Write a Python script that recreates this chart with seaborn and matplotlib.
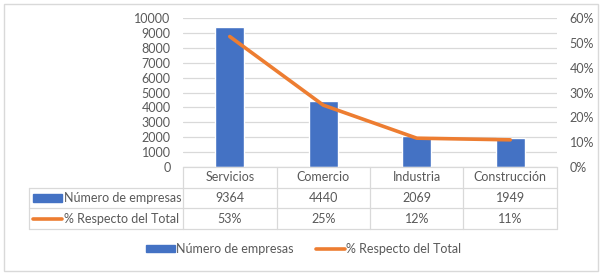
import numpy as np
import seaborn as sns
import matplotlib.pyplot as plt
from matplotlib.patches import Patch, Rectangle
from matplotlib.lines import Line2D

sns.set_style("white")
plt.rcParams["font.family"] = ["Lato", "DejaVu Sans"]

categorias = ["Servicios", "Comercio", "Industria", "Construcción"]
empresas = [9364, 4440, 2069, 1949]
porcentaje = [0.5254, 0.2491, 0.1161, 0.1094]
serie_barras = "Número de empresas"
serie_linea = "% Respecto del Total"

azul = "#4472C4"
naranja = "#ED7D31"
gris_txt = "#595959"
gris_linea = "#D9D9D9"
fs = 9

fig = plt.figure(figsize=(6.02, 2.74), dpi=100)
ax = fig.add_axes([183 / 602, 107 / 274, 374 / 602, 149 / 274])

sns.barplot(x=categorias, y=empresas, ax=ax, color=azul, width=0.31, saturation=1)
ax.set_ylim(0, 10000)
ax.set_yticks(range(0, 10001, 1000))
ax.set_xlim(-0.5, len(categorias) - 0.5)
ax.yaxis.grid(True, color=gris_linea, lw=0.9)
ax.set_axisbelow(True)
ax.set_xticks([])
ax.set_xlabel("")
ax.set_ylabel("")
ax.tick_params(axis="y", length=0, pad=9, labelsize=fs, labelcolor=gris_txt)
for s in ax.spines.values():
    s.set_visible(False)

ax2 = ax.twinx()
pos = np.arange(len(categorias))
sns.lineplot(x=pos, y=porcentaje, ax=ax2, color=naranja, lw=2.6)
ax2.set_ylim(0, 0.6)
ax2.set_yticks(np.arange(0, 0.61, 0.1))
ax2.set_yticklabels([f"{v:.0%}" for v in np.arange(0, 0.61, 0.1)])
ax2.tick_params(axis="y", length=0, pad=9, labelsize=fs, labelcolor=gris_txt)
ax2.set_ylabel("")
for s in ax2.spines.values():
    s.set_visible(False)

# tabla de datos
tr = ax.get_xaxis_transform()
h = 0.139
x_izq = -0.5 - (183 - 29) / 93.5
x_der = len(categorias) - 0.5
lw_t = 0.9
ax.plot([-0.5, x_der], [0, 0], color=gris_linea, lw=lw_t, transform=tr, clip_on=False)
for k in (1, 2, 3):
    ax.plot([x_izq, x_der], [-k * h, -k * h], color=gris_linea, lw=lw_t, transform=tr, clip_on=False)
ax.plot([x_izq, x_izq], [-h, -3 * h], color=gris_linea, lw=lw_t, transform=tr, clip_on=False)
for xb in np.arange(-0.5, len(categorias), 1.0):
    ax.plot([xb, xb], [0.0, -3 * h], color=gris_linea, lw=lw_t, transform=tr, clip_on=False)

for i, cat in enumerate(categorias):
    ax.text(i, -0.5 * h, cat, ha="center", va="center", fontsize=fs, color=gris_txt, transform=tr)
    ax.text(i, -1.5 * h, f"{empresas[i]}", ha="center", va="center", fontsize=fs, color=gris_txt, transform=tr)
    ax.text(i, -2.5 * h, f"{porcentaje[i]:.0%}", ha="center", va="center", fontsize=fs, color=gris_txt, transform=tr)

m0 = -0.5 - (183 - 33) / 93.5
m1 = -0.5 - (183 - 62) / 93.5
ax.add_patch(Rectangle((m0, -1.5 * h - 0.025), m1 - m0, 0.05, color=azul, transform=tr, clip_on=False))
ax.plot([m0, m1], [-2.5 * h, -2.5 * h], color=naranja, lw=2.6, transform=tr, clip_on=False)
ax.text(m1 + 0.02, -1.5 * h, serie_barras, ha="left", va="center", fontsize=fs, color=gris_txt, transform=tr)
ax.text(m1 + 0.02, -2.5 * h, serie_linea, ha="left", va="center", fontsize=fs, color=gris_txt, transform=tr)

handles = [Patch(color=azul), Line2D([], [], color=naranja, lw=2.6)]
fig.legend(handles, [serie_barras, serie_linea], loc="center", bbox_to_anchor=(0.505, 25 / 274),
           ncol=2, frameon=False, fontsize=fs, labelcolor=gris_txt, handlelength=2.3,
           handleheight=0.55, handletextpad=0.1, columnspacing=1.8)

fig.patches.append(Rectangle((4 / 602, 3 / 274), 594 / 602, 267 / 274, transform=fig.transFigure,
                             fill=False, edgecolor="#D9D9D9", lw=1))

fig.savefig("out.png", dpi=100)
